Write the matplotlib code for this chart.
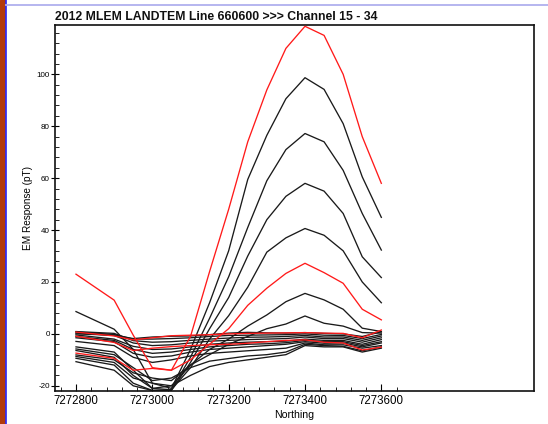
import matplotlib
matplotlib.use("Agg")
import matplotlib.pyplot as plt
from matplotlib.ticker import MultipleLocator, FixedLocator, FuncFormatter
from matplotlib.patches import Rectangle
from matplotlib.lines import Line2D

plt.rcParams['font.family'] = ['Liberation Sans', 'DejaVu Sans']

title = "2012 MLEM LANDTEM Line 660600 >>> Channel 15 - 34"
xlabel = "Northing"
ylabel = "EM Response (pT)"

northing = [7272800, 7272900, 7272950, 7273000, 7273050, 7273100, 7273150, 7273200,
            7273250, 7273300, 7273350, 7273400, 7273450, 7273500, 7273550, 7273600]

ch15 = [23, 13, -0.5, -13, -14, -1, 24, 48, 74, 94, 110, 118.5, 115, 100, 76, 58]
ch16 = [8.6, 1.8, -6, -19, -21, -6, 12, 32, 59.5, 76.5, 90.6, 98.7, 94.2, 81, 60.5, 44.9]
ch17 = [-5, -7, -14, -21, -21.5, -9, 6, 22, 41, 59, 71, 77.2, 74, 63, 46.4, 32.3]
ch18 = [-9.4, -12, -19, -21.8, -21.8, -11, 2, 14, 30, 44, 53, 58, 55, 46.4, 29.7, 21.7]
ch19 = [-10.7, -14, -20, -21.8, -21.5, -13, -2, 7, 18, 31.5, 37, 40.6, 38, 32, 20, 12]
ch20 = [-7.4, -9.4, -14, -13.3, -14, -10, -4, 2, 11, 17.6, 23.3, 27.2, 23.6, 19.5, 9.5, 5.4]
ch21 = [-8.7, -11, -17, -19, -20, -12, -6, -2, 3, 7.3, 12.4, 15.6, 13.1, 9.5, 2.2, 0.9]
ch22 = [-8.1, -10, -15, -17, -18, -12, -8, -4, -1, 2, 3.8, 6.9, 4.1, 3, 0.5, 0.3]
ch23 = [-6.4, -9, -16, -21, -20, -16, -12.6, -11, -10, -9, -8, -4.5, -5, -5, -7, -5.5]
ch24 = [-5.8, -8, -13, -18, -17, -13, -10.5, -9.5, -8.5, -8, -7, -4, -4.5, -4.8, -6.5, -5]
ch25 = [-0.9, -3.3, -6.4, -5.5, -4.9, -4.5, -4.2, -4, -3.6, -3.0, -2.5, -2.3, -3.2, -3.5, -6.2, -5.1]
ch26 = [-2.9, -4.5, -9, -11, -10, -8.5, -7.5, -7, -6.5, -6, -5.5, -3.5, -4.2, -4.2, -5.5, -4.5]
ch27 = [-1.5, -3, -7.5, -9, -8.5, -7, -6, -5.5, -5, -4.5, -4, -3, -3.6, -3.5, -5, -3.5]
ch28 = [-1.0, -2.5, -6, -7.5, -7, -6, -5, -4.5, -4, -3.8, -3.4, -2.5, -3, -3, -4.5, -3]
ch29 = [-0.4, -2, -4.8, -6, -5.8, -5, -4, -3.5, -3.2, -3, -2.8, -2, -2.5, -2.5, -4, -2.2]
ch30 = [0.7, -0.8, -2.3, -1.5, -0.7, -0.5, -0.3, 0, 0.2, 0.3, 0.4, 0.5, 0.3, 0.2, -1.5, 1.5]
ch31 = [0.3, -0.6, -3.5, -4.5, -4.2, -3.5, -2.8, -2.5, -2.2, -2, -1.8, -1.2, -1.8, -1.8, -3.2, -1.5]
ch32 = [0.9, 0.2, -2.6, -3.2, -3, -2.5, -2, -1.6, -1.3, -1.2, -1, -0.6, -1.2, -1.2, -2.5, -0.8]
ch33 = [0.7, -0.2, -2, -2, -1.8, -1.5, -1, -0.6, -0.5, -0.4, -0.3, 0, -0.5, -0.6, -1.8, -0.2]
ch34 = [0.0, -0.5, -1.8, -1.2, -0.9, -0.8, -0.3, 0.3, 0.6, 0.4, 0.3, 0.5, 0.2, 0, -1, 0.8]

channels = [15, 16, 17, 18, 19, 20, 21, 22, 23, 24, 25, 26, 27, 28, 29, 30, 31, 32, 33, 34]
series = [ch15, ch16, ch17, ch18, ch19, ch20, ch21, ch22, ch23, ch24, ch25, ch26, ch27,
          ch28, ch29, ch30, ch31, ch32, ch33, ch34]
red_channels = [15, 20, 25, 30]

xticks = [7272800, 7273000, 7273200, 7273400, 7273600]
yticks = [-20, 0, 20, 40, 60, 80, 100]

W, H = 548, 424
fig = plt.figure(figsize=(W / 100, H / 100), dpi=100)
fig.patch.set_facecolor('white')

# page decoration
fig.add_artist(Rectangle((0, 0), 5 / W, 1, transform=fig.transFigure, color='#B23A0C', zorder=0))
fig.add_artist(Line2D([5.8 / W, 5.8 / W], [0, 1], transform=fig.transFigure, color='#2a2aff', lw=1.2))
fig.add_artist(Line2D([6 / W, 1], [1 - 4.5 / H, 1 - 4.5 / H], transform=fig.transFigure,
                      color='#b0b0ee', lw=1.3))

L, R, T, B = 55, 534, 25, 391
ax = fig.add_axes([L / W, 1 - B / H, (R - L) / W, (B - T) / H])

order = [i for i, c in enumerate(channels) if c not in red_channels] + \
        [i for i, c in enumerate(channels) if c in red_channels]
for i in order:
    c = channels[i]
    col = '#ff1a1a' if c in red_channels else '#1a1a1a'
    ax.plot(northing, series[i], color=col, lw=0.95, zorder=3 if c in red_channels else 2)

ax.set_xlim(7272745, 7274000)
ax.set_ylim(-22, 119)

ax.xaxis.set_major_locator(FixedLocator(xticks))
ax.xaxis.set_minor_locator(FixedLocator([7272760 + 40 * k for k in range(23)]))
ax.xaxis.set_major_formatter(FuncFormatter(lambda v, p: f"{int(round(v))}"))
ax.yaxis.set_major_locator(FixedLocator(yticks))
ax.yaxis.set_minor_locator(MultipleLocator(4))
ax.yaxis.set_major_formatter(FuncFormatter(lambda v, p: f"{int(round(v))}"))

ax.tick_params(axis='x', which='major', direction='in', length=5, width=0.8,
               labelsize=8.3, pad=3, top=False)
ax.tick_params(axis='x', which='minor', direction='in', length=3, width=0.6, top=False)
ax.tick_params(axis='y', which='major', direction='inout', length=6, width=0.8,
               labelsize=5.8, pad=0.8, right=False)
ax.tick_params(axis='y', which='minor', direction='in', length=3, width=0.6, right=False)

for s in ax.spines.values():
    s.set_linewidth(1.2)
    s.set_color('#111111')

ax.set_xlabel(xlabel, fontsize=7.6, labelpad=2)
ax.set_ylabel(ylabel, fontsize=7.2)
ax.yaxis.set_label_coords((33 - L) / (R - L), 0.5)

fig.text(L / W, 1 - 16.5 / H, title, fontsize=8.8, fontweight='bold', ha='left', va='center',
         color='#111111')

fig.savefig('out.png', dpi=100)
